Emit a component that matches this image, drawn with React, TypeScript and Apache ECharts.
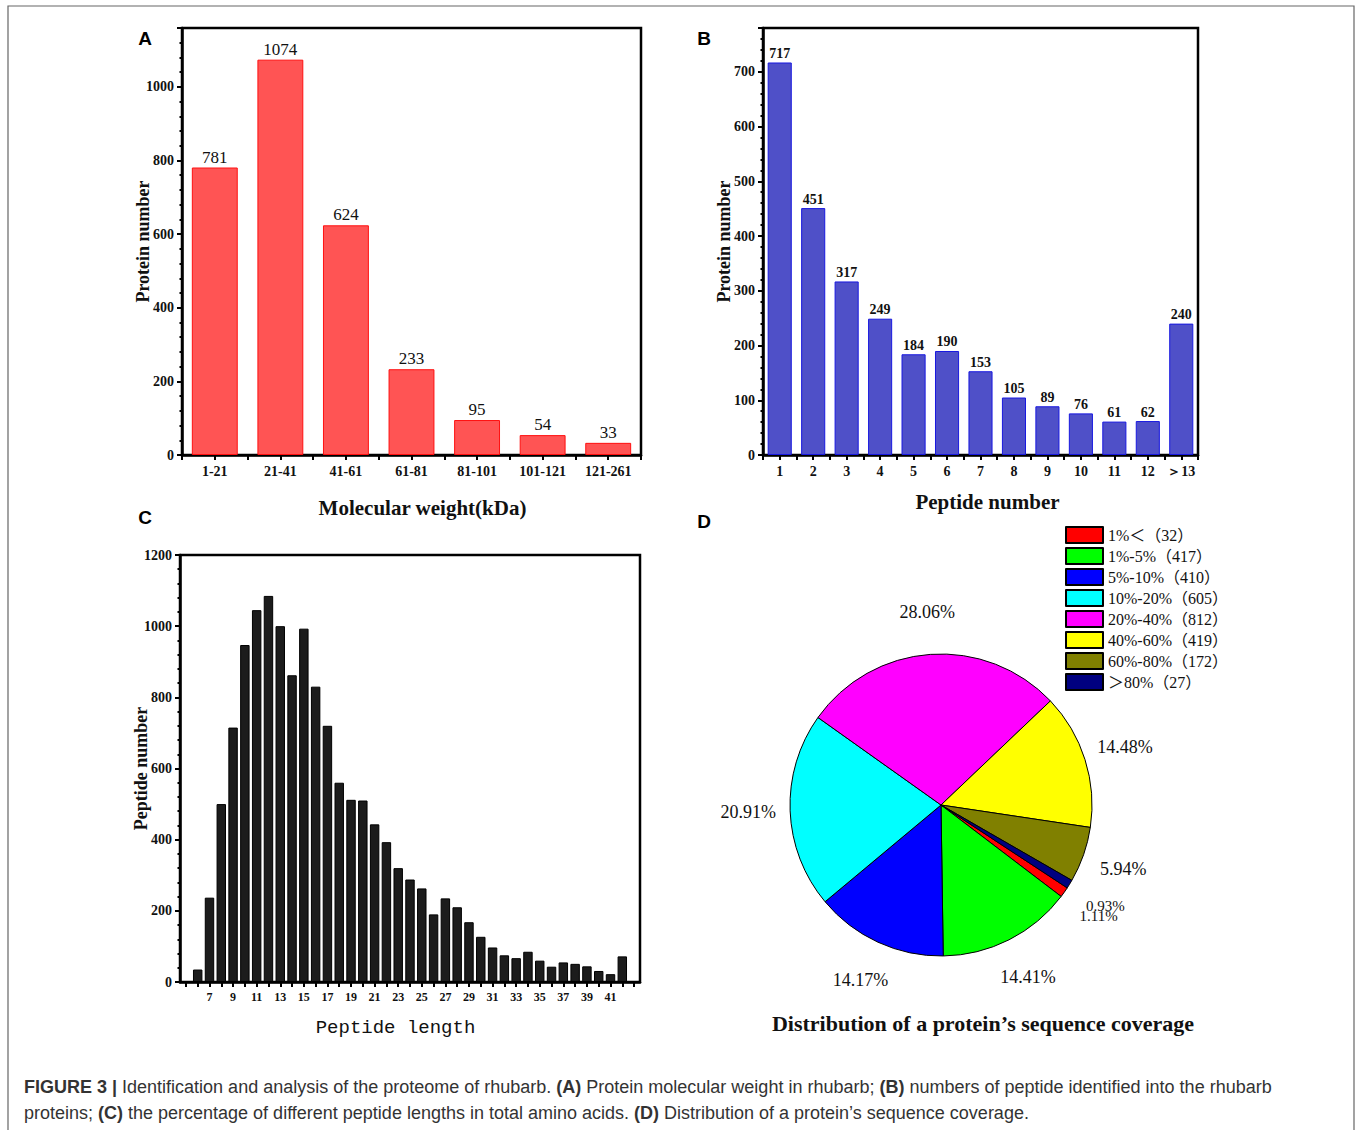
import React, { useEffect, useRef } from "react";
import * as echarts from "echarts";

// ---------- Data ----------
const mwCategories = ["1-21", "21-41", "41-61", "61-81", "81-101", "101-121", "121-261"];
const mwCounts = [781, 1074, 624, 233, 95, 54, 33];

const peptideNumCategories = ["1", "2", "3", "4", "5", "6", "7", "8", "9", "10", "11", "12", "＞13"];
const peptideNumCounts = [717, 451, 317, 249, 184, 190, 153, 105, 89, 76, 61, 62, 240];

const peptideLengths = [6, 7, 8, 9, 10, 11, 12, 13, 14, 15, 16, 17, 18, 19, 20, 21, 22, 23, 24, 25, 26, 27, 28, 29, 30, 31, 32, 33, 34, 35, 36, 37, 38, 39, 40, 41, 42];
const peptideLengthCounts = [35, 237, 500, 715, 947, 1045, 1085, 1000, 862, 993, 830, 720, 560, 512, 510, 443, 393, 320, 288, 263, 190, 235, 210, 168, 127, 97, 75, 67, 85, 60, 43, 55, 51, 44, 31, 22, 72];
const lengthAxisLow = "5";
const lengthAxisHigh = "43";

const coverageNames = ["1%＜", "1%-5%", "5%-10%", "10%-20%", "20%-40%", "40%-60%", "60%-80%", "＞80%"];
const coverageCounts = [32, 417, 410, 605, 812, 419, 172, 27];
const coverageColors = ["#FF0000", "#00FF00", "#0000FF", "#00FFFF", "#FF00FF", "#FFFF00", "#808000", "#000080"];
const smallLabelNames = ["1%＜", "＞80%"];

const captionLine1 =
  "{b|FIGURE 3 |} Identification and analysis of the proteome of rhubarb. {b|(A)} Protein molecular weight in rhubarb; {b|(B)} numbers of peptide identified into the rhubarb";
const captionLine2 =
  "proteins; {b|(C)} the percentage of different peptide lengths in total amino acids. {b|(D)} Distribution of a protein’s sequence coverage.";

// ---------- Styles ----------
const SERIF = "'Liberation Serif', 'Times New Roman', serif";
const SERIF_CJK = "'Liberation Serif', 'Noto Sans CJK SC', serif";
const SANS = "'Liberation Sans', Arial, sans-serif";

function valueAxis(gridIndex: number, max: number, interval: number, name: string, showMax: boolean) {
  return {
    type: "value",
    gridIndex,
    min: 0,
    max,
    interval,
    name,
    nameLocation: "middle",
    nameGap: 30,
    nameMoveOverlap: false,
    nameTextStyle: { fontFamily: SERIF, fontWeight: "bold", fontSize: 18, color: "#111" },
    axisLine: { show: true, lineStyle: { color: "#000", width: 2.5 } },
    axisTick: { show: true, inside: false, length: 5, lineStyle: { color: "#000", width: 2 } },
    minorTick: { show: true, splitNumber: 5, length: 2.5, lineStyle: { color: "#000", width: 2 } },
    splitLine: { show: false },
    minorSplitLine: { show: false },
    axisLabel: {
      fontFamily: SERIF,
      fontWeight: "bold",
      fontSize: 14,
      color: "#111",
      margin: 8,
      showMaxLabel: showMax,
      formatter: (v: number) => String(v),
    },
  };
}

function categoryAxis(gridIndex: number, data: string[], name: string, nameGap: number, nameStyle: any, labelSize: number, labelInterval: any) {
  return {
    type: "category",
    gridIndex,
    position: "bottom",
    data,
    name,
    nameLocation: "middle",
    nameGap,
    nameMoveOverlap: false,
    nameTextStyle: nameStyle,
    axisLine: { show: true, onZero: false, lineStyle: { color: "#000", width: 2.5 } },
    axisTick: { show: true, alignWithLabel: true, interval: 0, length: 5, lineStyle: { color: "#000", width: 2 } },
    axisLabel: {
      fontFamily: SERIF,
      fontWeight: "bold",
      fontSize: labelSize,
      color: "#111",
      margin: 9,
      interval: labelInterval,
    },
    splitLine: { show: false },
  };
}

function boundaryTickAxis(gridIndex: number, data: string[]) {
  return {
    type: "category",
    gridIndex,
    position: "bottom",
    data,
    axisLine: { show: false },
    axisTick: { show: true, alignWithLabel: false, interval: 0, length: 5, lineStyle: { color: "#000", width: 2 } },
    axisLabel: { show: false },
    splitLine: { show: false },
  };
}

export default function App() {
  const ref = useRef<HTMLDivElement>(null);

  useEffect(() => {
    if (!ref.current) return;
    const chart = echarts.init(ref.current, undefined, { renderer: "svg" });

    const lengthCategories = [lengthAxisLow, ...peptideLengths.map(String), lengthAxisHigh];
    const lengthData: (number | null)[] = [null, ...peptideLengthCounts, null];

    const coverageTotal = coverageCounts.reduce((a, b) => a + b, 0);
    const coverageData = coverageNames.map((n, i) => ({
      name: n,
      value: coverageCounts[i],
      itemStyle: { color: coverageColors[i] },
      label: smallLabelNames.includes(n) ? { fontSize: 15 } : undefined,
    }));

    const gridBorder = { show: true, borderColor: "#000", borderWidth: 2.5, backgroundColor: "transparent" };

    const option: any = {
      animation: false,
      backgroundColor: "#fff",
      grid: [
        { left: 182, top: 28, width: 459, height: 427, ...gridBorder },
        { left: 763, top: 28, width: 435, height: 427, ...gridBorder },
        { left: 180, top: 555, width: 460, height: 427, ...gridBorder },
      ],
      xAxis: [
        categoryAxis(0, mwCategories, "Molecular weight(kDa)", 42,
          { fontFamily: SERIF, fontWeight: "bold", fontSize: 21, color: "#111", padding: [0, 0, 0, 22] }, 14, 0),
        boundaryTickAxis(0, mwCategories),
        categoryAxis(1, peptideNumCategories, "Peptide number", 36,
          { fontFamily: SERIF, fontWeight: "bold", fontSize: 21, color: "#111", padding: [0, 0, 0, 14] }, 14, 0),
        boundaryTickAxis(1, peptideNumCategories),
        categoryAxis(2, lengthCategories, "Peptide length", 36,
          { fontFamily: "'Liberation Mono', 'DejaVu Sans Mono', monospace", fontSize: 19, color: "#111", padding: [0, 29, 0, 0] }, 12,
          (_i: number, v: string) => {
            const n = Number(v);
            return n % 2 === 1 && n >= 7 && n <= 41;
          }),
      ],
      yAxis: [
        valueAxis(0, 1160, 200, "Protein number", false),
        valueAxis(1, 780, 100, "Protein number", false),
        valueAxis(2, 1200, 200, "Peptide number", true),
      ],
      legend: {
        show: true,
        orient: "vertical",
        left: 1065,
        top: 526,
        padding: 0,
        itemWidth: 37,
        itemHeight: 16,
        itemGap: 3,
        icon: "rect",
        data: coverageNames,
        selectedMode: false,
        textStyle: { fontFamily: SERIF_CJK, fontSize: 16, lineHeight: 16, color: "#111" },
        formatter: (name: string) => {
          const i = coverageNames.indexOf(name);
          return `${name}（${coverageCounts[i]}）`;
        },
      },
      series: [
        {
          type: "bar",
          xAxisIndex: 0,
          yAxisIndex: 0,
          data: mwCounts,
          barCategoryGap: "30%",
          itemStyle: { color: "#FF5454", borderColor: "#FF1010", borderWidth: 1 },
          label: { show: true, position: "top", distance: 2, fontFamily: SERIF, fontSize: 17, color: "#111" },
        },
        {
          type: "bar",
          xAxisIndex: 2,
          yAxisIndex: 1,
          data: peptideNumCounts,
          barCategoryGap: "28%",
          itemStyle: { color: "#4F50C8", borderColor: "#1818E0", borderWidth: 1 },
          label: { show: true, position: "top", distance: 2, fontFamily: SERIF, fontWeight: "bold", fontSize: 14, color: "#111" },
        },
        {
          type: "bar",
          xAxisIndex: 4,
          yAxisIndex: 2,
          data: lengthData,
          barCategoryGap: "20%",
          itemStyle: { color: "#1c1c1c", borderColor: "#000", borderWidth: 1 },
        },
        {
          type: "pie",
          center: [941, 805],
          radius: 151,
          startAngle: -33.3,
          clockwise: true,
          avoidLabelOverlap: false,
          data: coverageData,
          itemStyle: { borderColor: "#000", borderWidth: 1 },
          label: {
            show: true,
            position: "outside",
            formatter: (p: any) => `${((p.value / coverageTotal) * 100).toFixed(2)}%`,
            fontFamily: SERIF,
            fontSize: 18,
            color: "#111",
            distanceToLabelLine: 0,
          },
          labelLine: { show: false, length: 42, length2: 0 },
          labelLayout: () => ({ align: "center", verticalAlign: "middle" }),
          emphasis: { disabled: true },
        },
      ],
      graphic: [
        {
          type: "rect",
          silent: true,
          z: -10,
          shape: { x: 8, y: 6, width: 1346, height: 1140 },
          style: { fill: "none", stroke: "#666", lineWidth: 1.2 },
        },
        { type: "text", x: 145, y: 38, style: { text: "A", font: `bold 19px ${SANS}`, fill: "#000", align: "center", verticalAlign: "middle" } },
        { type: "text", x: 704, y: 38, style: { text: "B", font: `bold 19px ${SANS}`, fill: "#000", align: "center", verticalAlign: "middle" } },
        { type: "text", x: 145, y: 517, style: { text: "C", font: `bold 19px ${SANS}`, fill: "#000", align: "center", verticalAlign: "middle" } },
        { type: "text", x: 704, y: 521, style: { text: "D", font: `bold 19px ${SANS}`, fill: "#000", align: "center", verticalAlign: "middle" } },
        {
          type: "text",
          x: 983,
          y: 1023,
          style: {
            text: "Distribution of a protein’s sequence coverage",
            font: `bold 22px ${SERIF}`,
            fill: "#111",
            align: "center",
            verticalAlign: "middle",
          },
        },
        {
          type: "text",
          x: 24,
          y: 1087,
          style: {
            text: captionLine1,
            fontFamily: SANS,
            fontSize: 18,
            fill: "#333",
            align: "left",
            verticalAlign: "middle",
            rich: { b: { fontFamily: SANS, fontSize: 18, fontWeight: "bold", fill: "#333" } },
          },
        },
        {
          type: "text",
          x: 24,
          y: 1113,
          style: {
            text: captionLine2,
            fontFamily: SANS,
            fontSize: 18,
            fill: "#333",
            align: "left",
            verticalAlign: "middle",
            rich: { b: { fontFamily: SANS, fontSize: 18, fontWeight: "bold", fill: "#333" } },
          },
        },
      ],
    };

    chart.setOption(option);
    return () => chart.dispose();
  }, []);

  return <div ref={ref} style={{ position: "absolute", left: 0, top: 0, width: 1360, height: 1130 }} />;
}
